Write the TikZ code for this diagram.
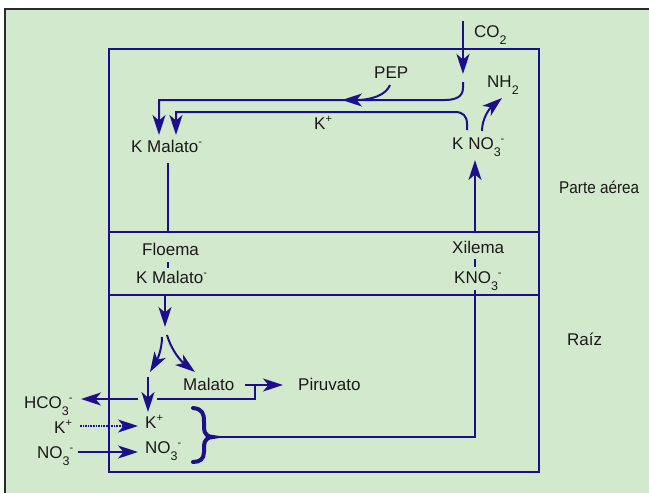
\documentclass[tikz,border=0pt]{standalone}
\usepackage{fontspec}
\usepackage{graphicx}
\setmainfont{Liberation Sans}
\usetikzlibrary{arrows.meta}
\definecolor{bg}{HTML}{D3E9CD}
\definecolor{ln}{HTML}{1B0F8C}
\definecolor{tx}{HTML}{1A1A1A}
\definecolor{frame}{HTML}{2A2A2A}
\newcommand\subs[1]{\raisebox{-7.5pt}{\fontsize{12.5}{12.5}\selectfont #1}}
\newcommand\sups[1]{\raisebox{6.5pt}{\fontsize{11}{11}\selectfont #1}}
\begin{document}
\begin{tikzpicture}[x=1pt,y=-1pt,
  lbl/.style={inner sep=0pt, anchor=base west, text=tx, font=\fontsize{17}{20}\selectfont},
  wire/.style={draw=ln, line width=2pt},
  tip/.style={-{Stealth[length=20pt,width=13pt,inset=5.5pt]}},
  arr/.style={wire, tip},
  dots/.style={draw=ln, line width=1.6pt, densely dotted, tip},
  brace/.style={draw=ln, line width=4pt, line cap=round},
]
\useasboundingbox (0,0) rectangle (649,493);
\fill[white] (0,0) rectangle (649,493);
\fill[bg] (5,9) rectangle (649,493);
\draw[frame, line width=1.5pt] (5,493) -- (5,9) -- (649,9);

% compartments
\draw[wire] (109,49) rectangle (539,472);
\draw[wire] (109,232) -- (539,232);
\draw[wire] (109,295) -- (539,295);

% texts
\node[lbl] (co2) at (474,37) {CO\subs{2}};
\node[lbl] (pep) at (374,78) {PEP};
\node[lbl] (nh2) at (487,87) {NH\subs{2}};
\node[lbl] (kp) at (314,129) {K\sups{+}};
\node[lbl] (kmalA) at (131,152) {K Malato\sups{-}};
\node[lbl] (kno3A) at (452,149) {K NO\subs{3}\sups{-}};
\node[lbl] (floema) at (142,255) {Floema};
\node[lbl] (kmalB) at (136,283) {K Malato\sups{-}};
\node[lbl] (xilema) at (452,253) {Xilema};
\node[lbl] (kno3B) at (454,283) {KNO\subs{3}\sups{-}};
\node[lbl] (aerea) at (559,193) {\scalebox{0.9}[1]{Parte aérea}};
\node[lbl] (raiz) at (567,345) {Raíz};
\node[lbl] (malato) at (183,390) {Malato};
\node[lbl] (piruv) at (298,390) {Piruvato};
\node[lbl] (hco3) at (24,408) {HCO\subs{3}\sups{-}};
\node[lbl] (kout) at (54,433) {K\sups{+}};
\node[lbl] (kin) at (145,428) {K\sups{+}};
\node[lbl] (no3out) at (37,458) {NO\subs{3}\sups{-}};
\node[lbl] (no3in) at (145,453) {NO\subs{3}\sups{-}};

% named points
\coordinate (co2s) at (463,21);
\coordinate (co2e) at (463,74);
\coordinate (fixs) at (463,82);
\coordinate (kmalA1) at (159,135);
\coordinate (kmalA2) at (176,135);
\coordinate (kno3Ak) at (467,130);
\coordinate (kno3An) at (482,131);
\coordinate (nh2t) at (502,98);
\coordinate (peps) at (390,85);
\coordinate (pept) at (342,100);
\coordinate (xilUp) at (475,160);
\coordinate (xilTop) at (475,233);
\coordinate (xilBot) at (475,290);
\coordinate (xilC) at (475,437);
\coordinate (braceTip) at (213,437);
\coordinate (floTop) at (168,163);
\coordinate (floBot) at (168,232);
\coordinate (down1s) at (165,294);
\coordinate (down1e) at (165,327);
\coordinate (splitL) at (162,337);
\coordinate (splitR) at (167,335);
\coordinate (kdown) at (148,377);
\coordinate (kin0) at (148,412);

% upper part
\draw[arr] (co2s) -- (co2e);
\draw[arr] (fixs) -- (463,88) .. controls (463,97) and (455,100) .. (445,100) -- (159,100) -- (kmalA1);
\draw[arr] (peps) .. controls (386,95) and (372,100) .. (pept);
\draw[arr] (kno3Ak) -- (467,124) .. controls (467,116) and (463,112) .. (455,112) -- (176,112) -- (kmalA2);
\draw[arr] (kno3An) .. controls (482,118) and (490,108) .. (nh2t);
\draw[wire] (floTop) -- (floBot);
\draw[arr] (xilTop) -- (xilUp);

% vessels
\draw[wire] (168,262) -- (168,268);
\draw[wire] (475,259) -- (475,267);

% root
\draw[arr] (down1s) -- (down1e);
\draw[arr] (splitL) .. controls (162,350) and (157,360) .. (150,372);
\draw[arr] (splitR) .. controls (172,352) and (182,362) .. (195,372);
\draw[arr] (kdown) -- (kin0);
\draw[arr] (138,399) -- (81,399);
\draw[wire] (157,399) -- (255,399) -- (255,385);
\draw[arr] (245,385) -- (283,385);
\draw[dots] (80,426) -- (138,426);
\draw[arr] (78,452) -- (138,452);
\draw[brace] (193,408) .. controls (203,409) and (204,414) .. (204,422) -- (204,428)
  .. controls (204,434) and (208,437) .. (braceTip)
  .. controls (208,437) and (204,440) .. (204,446) -- (204,452)
  .. controls (204,459) and (200,462) .. (193,462);
\draw[wire] (braceTip) -- (xilC) -- (xilBot);
\end{tikzpicture}
\end{document}
